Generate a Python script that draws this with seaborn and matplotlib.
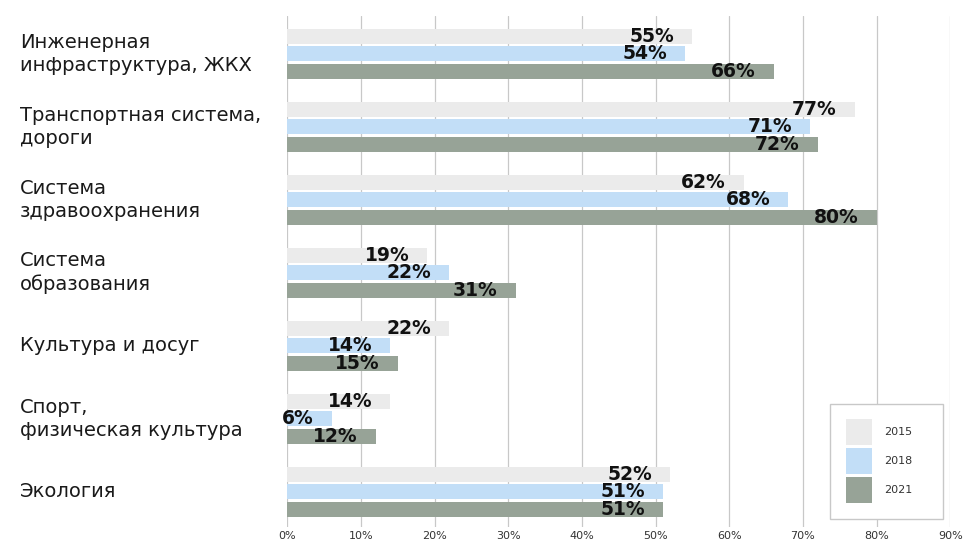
import matplotlib
matplotlib.use("Agg")
import matplotlib.pyplot as plt
import seaborn as sns
import pandas as pd
from matplotlib.patches import Patch

categories = [
    "Инженерная\nинфраструктура, ЖКХ",
    "Транспортная система,\nдороги",
    "Система\nздравоохранения",
    "Система\nобразования",
    "Культура и досуг",
    "Спорт,\nфизическая культура",
    "Экология",
]
years = ["2015", "2018", "2021"]
v2015 = [55, 77, 62, 19, 22, 14, 52]
v2018 = [54, 71, 68, 22, 14, 6, 51]
v2021 = [66, 72, 80, 31, 15, 12, 51]
xticks = [0, 10, 20, 30, 40, 50, 60, 70, 80, 90]

colors = ["#ebebeb", "#c2def7", "#97a397"]

rows = []
for yr, vals in zip(years, [v2015, v2018, v2021]):
    for c, v in zip(categories, vals):
        rows.append({"cat": c, "year": yr, "val": v})
df = pd.DataFrame(rows)

sns.set_theme(style="white")
plt.rcParams["font.family"] = ["DejaVu Sans"]

W, H = 968, 544
fig = plt.figure(figsize=(W / 100, H / 100), dpi=100)
left, right, top, bottom = 287.3, 950.3, 15.7, 527.0
ax = fig.add_axes([left / W, 1 - bottom / H, (right - left) / W, (bottom - top) / H])

sns.barplot(data=df, y="cat", x="val", hue="year", order=categories,
            hue_order=years, palette=colors, orient="h", width=0.726,
            gap=0.15, ax=ax, legend=False, saturation=1, linewidth=0)

ax.set_xlim(0, 90)
ax.set_ylim(6.484, -0.522)
ax.set_xticks(xticks)
ax.set_xticklabels([f"{t}%" for t in xticks], fontsize=8, color="#333333")
ax.set_xlabel("")
ax.set_ylabel("")
ax.grid(axis="x", color="#c8c8c8", lw=0.9)
ax.grid(axis="y", visible=False)
ax.set_axisbelow(True)
for s in ax.spines.values():
    s.set_visible(False)
ax.tick_params(axis="x", length=0, pad=3)
ax.tick_params(axis="y", length=0, pad=192.5)
for t in ax.get_yticklabels():
    t.set_horizontalalignment("left")
    t.set_verticalalignment("center")
    t.set_fontsize(14)
    t.set_color("#1a1a1a")
    t.set_linespacing(1.25)

for cont in ax.containers:
    for bar in cont:
        v = bar.get_width()
        yc = bar.get_y() + bar.get_height() / 2
        ax.annotate(f"{v:.0f}%", xy=(v, yc), xytext=(-13, 0),
                    textcoords="offset points", ha="right", va="center",
                    fontsize=13.5, fontweight="bold", color="#111111")

handles = [Patch(facecolor=c, edgecolor="none") for c in colors]
leg = ax.legend(handles, years, loc="upper left",
                bbox_to_anchor=(830 / W, 1 - 404.3 / H, 113.3 / W, 0.001),
                bbox_transform=fig.transFigure, mode="expand",
                borderaxespad=0,
                fontsize=8, handlelength=2.35, handleheight=3.22,
                labelspacing=0.27, borderpad=1.4, handletextpad=1.08,
                frameon=True, fancybox=False, framealpha=1,
                edgecolor="#c8c8c8", labelcolor="#333333")
leg.get_frame().set_linewidth(1)

fig.savefig("out.png", dpi=100)
